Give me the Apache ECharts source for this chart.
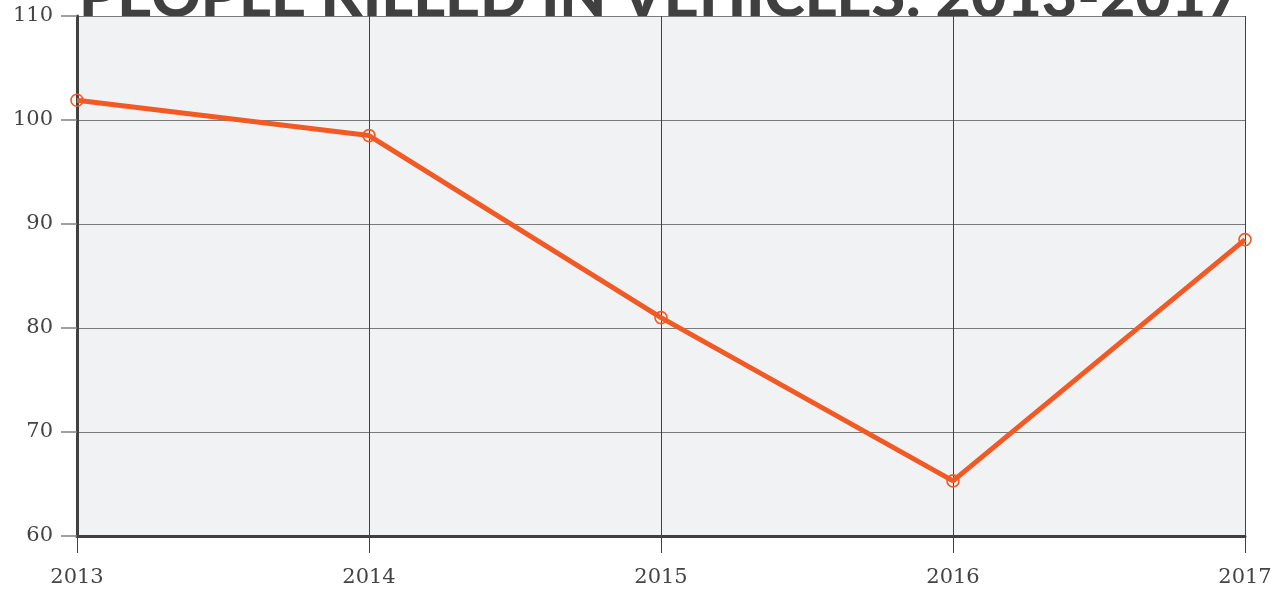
<!DOCTYPE html>
<html>
<head>
<meta charset="utf-8">
<script src="https://cdn.jsdelivr.net/npm/echarts@6/dist/echarts.min.js"></script>
<style>
    html, body { margin: 0; padding: 0; background: #fff; }
    #chart { width: 1285px; height: 590px; }
</style>
</head>
<body>
<div id="chart"></div>
<script>
// data
const years = ['2013', '2014', '2015', '2016', '2017']
const killed = [101.9, 98.5, 81, 65.3, 88.5]
const yTicks = { min: 60, max: 110, step: 10 }

const chart = echarts.init(document.getElementById('chart'))

const labelFont = {
    fontFamily: 'DejaVu Serif',
    fontSize: 21,
    color: '#444'
}

const option = {
    animation: false,
    backgroundColor: '#fff',
    title: {
        text: 'PEOPLE KILLED IN VEHICLES: 2013-2017',
        left: 74,
        top: -38,
        z: -1,
        textStyle: {
            fontFamily: 'Lato',
            fontWeight: 900,
            fontSize: 61,
            color: '#404040'
        }
    },
    grid: {
        left: 77,
        right: 40,
        top: 16,
        bottom: 54,
        show: true,
        backgroundColor: '#f1f2f4',
        borderWidth: 0,
        z: 0
    },
    xAxis: {
        type: 'category',
        data: years,
        boundaryGap: false,
        axisLine: { lineStyle: { color: '#404040', width: 3 } },
        axisTick: { show: true, length: 17, lineStyle: { color: '#404040', width: 1 } },
        axisLabel: { ...labelFont, margin: 31 },
        splitLine: { show: true, lineStyle: { color: '#404040', width: 1 } }
    },
    yAxis: {
        type: 'value',
        min: yTicks.min,
        max: yTicks.max,
        interval: yTicks.step,
        axisLine: { show: true, lineStyle: { color: '#404040', width: 3 } },
        axisTick: { show: true, length: 16, lineStyle: { color: '#808080', width: 1.5 } },
        axisLabel: { ...labelFont, margin: 24 },
        splitLine: { show: true, lineStyle: { color: '#7a7a7a', width: 1.2 } }
    },
    series: [
        {
            name: 'People killed',
            type: 'line',
            data: killed,
            symbol: 'circle',
            symbolSize: 12,
            showAllSymbol: true,
            lineStyle: { color: '#f15a24', width: 5 },
            itemStyle: { color: 'rgba(0,0,0,0)', borderColor: '#f15a24', borderWidth: 1.6 },
            z: 3
        }
    ]
}

chart.setOption(option)
</script>
</body>
</html>
